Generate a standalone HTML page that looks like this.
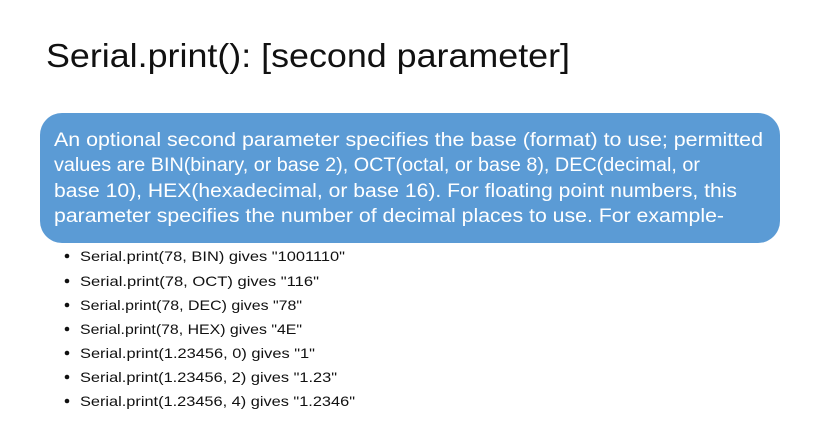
<!DOCTYPE html>
<html><head><style>
html,body{margin:0;padding:0;background:#fff;width:816px;height:431px;overflow:hidden}
svg{display:block}
text{font-family:"Liberation Sans",sans-serif}
</style></head><body>
<svg width="816" height="431" viewBox="0 0 816 431">
<text x="46" y="67" font-size="33" fill="#111" textLength="524" lengthAdjust="spacingAndGlyphs">Serial.print(): [second parameter]</text>
<rect x="40" y="113" width="740" height="130" rx="22" fill="#5b9bd5"/>
<g fill="#fff" font-size="19">
<text x="54" y="146" textLength="709" lengthAdjust="spacingAndGlyphs">An optional second parameter specifies the base (format) to use; permitted</text>
<text x="54" y="171" textLength="646" lengthAdjust="spacingAndGlyphs">values are BIN(binary, or base 2), OCT(octal, or base 8), DEC(decimal, or</text>
<text x="54" y="197" textLength="683" lengthAdjust="spacingAndGlyphs">base 10), HEX(hexadecimal, or base 16). For floating point numbers, this</text>
<text x="54" y="222" textLength="670" lengthAdjust="spacingAndGlyphs">parameter specifies the number of decimal places to use. For example-</text>
</g>
<g fill="#111" font-size="14">
<circle cx="67" cy="256" r="2.3"/><text x="80" y="261" textLength="265" lengthAdjust="spacingAndGlyphs">Serial.print(78, BIN) gives "1001110"</text>
<circle cx="67" cy="281" r="2.3"/><text x="80" y="286" textLength="239" lengthAdjust="spacingAndGlyphs">Serial.print(78, OCT) gives "116"</text>
<circle cx="67" cy="305" r="2.3"/><text x="80" y="310" textLength="222" lengthAdjust="spacingAndGlyphs">Serial.print(78, DEC) gives "78"</text>
<circle cx="67" cy="329" r="2.3"/><text x="80" y="334" textLength="222" lengthAdjust="spacingAndGlyphs">Serial.print(78, HEX) gives "4E"</text>
<circle cx="67" cy="353" r="2.3"/><text x="80" y="358" textLength="235" lengthAdjust="spacingAndGlyphs">Serial.print(1.23456, 0) gives "1"</text>
<circle cx="67" cy="377" r="2.3"/><text x="80" y="382" textLength="257" lengthAdjust="spacingAndGlyphs">Serial.print(1.23456, 2) gives "1.23"</text>
<circle cx="67" cy="401" r="2.3"/><text x="80" y="406" textLength="275" lengthAdjust="spacingAndGlyphs">Serial.print(1.23456, 4) gives "1.2346"</text>
</g>
</svg>
</body></html>
